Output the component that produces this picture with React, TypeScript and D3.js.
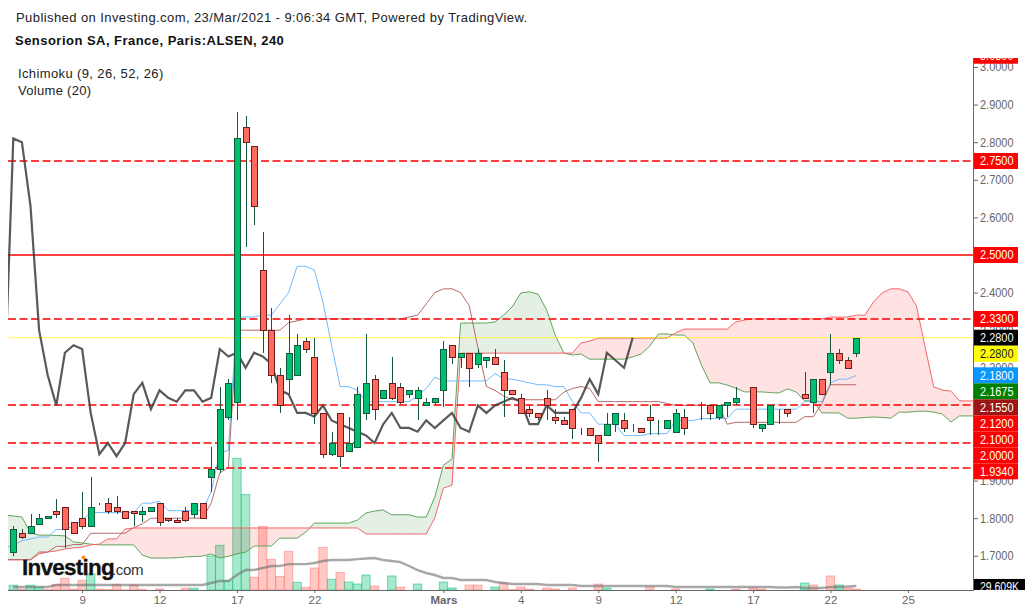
import React, { useRef, useEffect } from 'react';
import * as d3 from 'd3';

const opens = [1.71,1.76,1.76,1.785,1.8,1.82,1.83,1.79,1.8,1.78,1.84,1.84,1.83,1.82,1.82,1.81,1.82,1.84,1.8,1.795,1.82,1.81,1.84,1.91,1.93,2.07,2.11,2.84,2.79,2.46,2.3,2.18,2.17,2.18,2.27,2.23,2.08,1.97,2.08,1.98,1.99,2.08,2.17,2.12,2.16,2.15,2.13,2.12,2.1,2.11,2.14,2.26,2.23,2.24,2.21,2.22,2.23,2.19,2.14,2.12,2.09,2.08,2.12,2.07,2.06,2.09,2.03,2.04,2.02,2.02,2.05,2.06,2.04,2.04,2.07,2.04,2.04,2.03,2.07,2.03,2.1,2.1,2.07,2.1,2.11,2.11,2.15,2.04,2.05,2.08,2.09,2.08,2.13,2.11,2.17,2.19,2.24,2.22,2.24];
const highs = [1.78,1.77,1.81,1.81,1.805,1.85,1.83,1.79,1.87,1.91,1.84,1.855,1.86,1.82,1.82,1.83,1.83,1.84,1.8,1.8,1.83,1.84,1.84,1.99,2.15,2.17,2.88,2.87,2.79,2.56,2.36,2.2,2.34,2.29,2.28,2.28,2.08,2.03,2.08,2.07,2.15,2.29,2.18,2.14,2.23,2.16,2.14,2.15,2.12,2.12,2.27,2.26,2.24,2.24,2.25,2.23,2.25,2.22,2.14,2.13,2.1,2.08,2.14,2.09,2.07,2.09,2.04,2.04,2.02,2.08,2.08,2.08,2.05,2.04,2.1,2.06,2.06,2.09,2.09,2.03,2.11,2.1,2.1,2.11,2.15,2.11,2.15,2.05,2.1,2.09,2.09,2.08,2.19,2.17,2.17,2.29,2.25,2.23,2.28];
const lows = [1.7,1.745,1.76,1.785,1.8,1.8,1.72,1.76,1.77,1.78,1.835,1.81,1.81,1.8,1.78,1.79,1.82,1.78,1.79,1.79,1.79,1.8,1.8,1.87,1.92,2.06,2.06,2.52,2.58,2.24,2.16,2.08,2.13,2.18,2.24,2.05,1.96,1.965,1.935,1.975,1.99,2.06,2.06,2.12,2.115,2.105,2.12,2.06,2.1,2.1,2.095,2.21,2.2,2.15,2.2,2.2,2.21,2.07,2.13,2.08,2.07,2.06,2.06,2.05,2.05,2.01,2.02,2.02,1.95,2.02,2.03,2.03,2.03,2.03,2.02,2.02,2.04,2.03,2.02,2.03,2.06,2.06,2.06,2.07,2.1,2.11,2.04,2.03,2.05,2.05,2.07,2.08,2.12,2.08,2.13,2.155,2.21,2.2,2.23];
const closes = [1.77,1.75,1.78,1.8,1.805,1.81,1.77,1.76,1.78,1.83,1.84,1.82,1.82,1.8,1.815,1.82,1.83,1.79,1.795,1.79,1.795,1.84,1.8,1.93,2.09,2.16,2.81,2.8,2.63,2.3,2.18,2.1,2.24,2.26,2.25,2.08,1.97,2,1.965,2,2.13,2.16,2.09,2.14,2.12,2.11,2.14,2.14,2.11,2.12,2.25,2.23,2.24,2.2,2.24,2.23,2.21,2.14,2.13,2.08,2.08,2.07,2.1,2.06,2.05,2.04,2.03,2.02,2,2.05,2.08,2.04,2.04,2.03,2.06,2.04,2.06,2.08,2.04,2.03,2.1,2.08,2.1,2.11,2.12,2.11,2.05,2.05,2.1,2.08,2.08,2.08,2.12,2.17,2.13,2.24,2.22,2.2,2.28];

// ichimoku lines start one bar left of the first candle
const tenkan = [1.72,1.729,1.74,1.745,1.75,1.75,1.77,1.77,1.78,1.795,1.815,1.815,1.815,1.815,1.815,1.815,1.84,1.84,1.845,1.82,1.82,1.82,1.82,1.82,1.87,1.975,1.98,2.335,2.335,2.335,2.34,2.34,2.37,2.4,2.47,2.47,2.46,2.375,2.26,2.15,2.15,2.14,2.11,2.11,2.11,2.11,2.11,2.11,2.125,2.145,2.175,2.165,2.165,2.165,2.165,2.165,2.165,2.185,2.17,2.17,2.165,2.16,2.155,2.155,2.15,2.15,2.11,2.08,2.08,2.05,2.05,2.05,2.02,2.02,2.02,2.025,2.025,2.025,2.06,2.06,2.06,2.065,2.065,2.065,2.065,2.09,2.09,2.09,2.09,2.09,2.09,2.09,2.09,2.11,2.11,2.11,2.16,2.17,2.17,2.18];
const kijun = [1.69,1.69,1.69,1.69,1.71,1.71,1.725,1.725,1.73,1.73,1.76,1.76,1.76,1.76,1.76,1.775,1.785,1.8,1.8,1.8,1.8,1.8,1.8,1.8,1.84,1.92,1.935,2.3,2.3,2.3,2.3,2.3,2.3,2.32,2.325,2.33,2.33,2.33,2.33,2.33,2.33,2.33,2.33,2.33,2.33,2.33,2.33,2.335,2.34,2.37,2.4,2.41,2.41,2.4,2.365,2.255,2.15,2.14,2.125,2.115,2.115,2.115,2.115,2.115,2.115,2.135,2.145,2.15,2.145,2.11,2.11,2.11,2.11,2.11,2.11,2.11,2.11,2.105,2.1,2.1,2.1,2.1,2.1,2.1,2.05,2.055,2.055,2.055,2.055,2.055,2.055,2.055,2.055,2.07,2.07,2.105,2.155,2.155,2.155,2.155];
const spanA = [1.808,1.806,1.803,1.761,1.755,1.755,1.754,1.753,1.737,1.734,1.731,1.729,1.729,1.729,1.729,1.729,1.702,1.694,1.694,1.694,1.695,1.697,1.698,1.699,1.705,1.694,1.699,1.705,1.71,1.726,1.726,1.726,1.747,1.747,1.747,1.763,1.787,1.787,1.787,1.787,1.787,1.795,1.814,1.819,1.822,1.809,1.809,1.809,1.803,1.803,1.856,1.941,1.957,2.319,2.319,2.319,2.319,2.322,2.34,2.362,2.399,2.402,2.396,2.354,2.287,2.239,2.234,2.237,2.223,2.223,2.223,2.223,2.223,2.229,2.237,2.258,2.29,2.29,2.287,2.287,2.266,2.207,2.16,2.16,2.154,2.146,2.136,2.136,2.136,2.134,2.133,2.144,2.136,2.112,2.112,2.08,2.08,2.08,2.066,2.066,2.068,2.069,2.068,2.066,2.082,2.082,2.084,2.085,2.082,2.077,2.056,2.072,2.072,2.072];
const spanB = [1.689,1.689,1.689,1.689,1.705,1.71,1.713,1.718,1.721,1.723,1.729,1.731,1.745,1.745,1.771,1.774,1.774,1.774,1.774,1.774,1.774,1.774,1.774,1.774,1.774,1.774,1.774,1.774,1.774,1.774,1.774,1.774,1.774,1.774,1.774,1.774,1.774,1.774,1.774,1.774,1.774,1.774,1.758,1.758,1.758,1.758,1.758,1.758,1.758,1.758,1.801,1.88,1.888,2.239,2.239,2.239,2.239,2.239,2.239,2.239,2.239,2.239,2.239,2.239,2.239,2.239,2.239,2.266,2.271,2.279,2.279,2.279,2.279,2.279,2.279,2.279,2.279,2.279,2.293,2.303,2.303,2.303,2.303,2.303,2.303,2.322,2.327,2.33,2.33,2.33,2.33,2.33,2.33,2.33,2.33,2.33,2.335,2.335,2.335,2.34,2.34,2.375,2.399,2.41,2.41,2.402,2.364,2.255,2.149,2.141,2.138,2.112,2.112,2.112];

const volumes = [35,7,35,20,4,42,87,7,72,121,7,4,42,2,37,5,0,7,0,0,13,13,0,252,331,69,975,708,94,471,227,101,286,57,20,163,316,79,131,59,44,111,30,0,104,22,0,44,0,0,59,15,0,37,37,0,22,52,4,22,7,0,15,7,0,15,0,0,44,15,0,0,0,0,22,0,0,7,0,0,0,7,0,0,7,0,15,7,0,0,0,0,52,37,0,104,37,15,7];
const volumeSide = 'grggrrrrrgrrrrrrgrrrrgrgggggrrrrrgrrrgrgggrggrrgrgggrrrrgrrrrrrrrrrrrgrrgrrrgrgrrgggrgrrgrrrgrrrg';
const volumeAvg = [22,22,22,22,22,37,37,37,37,37,37,37,37,37,37,37,37,37,37,37,37,37,37,52,67,67,111,148,148,163,178,178,192,192,192,200,215,222,222,222,229,233,237,222,215,207,178,148,126,111,89,89,74,74,74,74,59,52,44,44,44,44,37,37,37,37,30,30,30,30,30,30,30,30,30,30,30,22,22,22,22,22,22,22,22,22,22,22,22,18,18,22,15,15,15,22,22,26,30];

// 2.0 and 2.1 sit fully under the price labels in the reference
const priceTicks = [1.7,1.8,1.9,2.2,2.3,2.4,2.5,2.6,2.7,2.8,2.9,3.0];
const dateTicks = [8,17,26,35,50,59,68,77,86,95,104];
const dateLabels = ['9','12','17','22','Mars','4','9','12','17','22','25'];

const dashedLevels = [2.75,2.33,2.1,2.0,1.934];
const solidLevels = [2.5];
const lastClose = 2.28;

const labelPrices = [3.03,2.75,2.5,2.33,2.28,2.28,2.18,2.1675,2.155,2.12,2.1,2.0,1.934];
const labelFills = ['#ff0000','#ff0000','#ff0000','#ff0000','#000000','#ffff00','#0a96ff','#008000','#9c1414','#ff0000','#ff0000','#ff0000','#ff0000'];
const labelInk = ['#fff','#fff','#fff','#fff','#fff','#222','#fff','#fff','#fff','#fff','#fff','#fff','#fff'];

const UP = '#00c06f';
const DOWN = '#ff6a5f';
const FONT = '"Liberation Sans", Arial, sans-serif';

const App: React.FC = () => {
  const svgRef = useRef<SVGSVGElement | null>(null);

  useEffect(() => {
    const svg = d3.select(svgRef.current!);
    svg.selectAll('*').remove();
    svg.style('font-family', FONT);

    const x = d3.scaleLinear().domain([0, 98]).range([13.3, 856.3]);
    const y = d3.scaleLinear().domain([1.7, 3.0]).range([555.8, 67]);
    const v = d3.scaleLinear().domain([0, 1000]).range([590, 455]);
    const px = (i: number) => Math.round(x(i));

    const defs = svg.append('defs');
    defs.append('clipPath').attr('id', 'plot')
      .append('rect').attr('x', 8).attr('y', 57).attr('width', 965).attr('height', 533);
    defs.append('clipPath').attr('id', 'scale')
      .append('rect').attr('x', 973).attr('y', 58).attr('width', 59).attr('height', 532);

    const cloudIdx = d3.range(spanA.length);
    const bandArea = d3.area<number>().x((i) => x(i - 1))
      .y0((i) => y(spanA[i])).y1((i) => y(spanB[i]));
    defs.append('clipPath').attr('id', 'overB').append('path')
      .attr('d', d3.area<number>().x((i) => x(i - 1)).y0(0).y1((i) => y(spanB[i]))(cloudIdx)!);
    defs.append('clipPath').attr('id', 'underB').append('path')
      .attr('d', d3.area<number>().x((i) => x(i - 1)).y0(614).y1((i) => y(spanB[i]))(cloudIdx)!);

    const plot = svg.append('g').attr('clip-path', 'url(#plot)');

    // volume
    plot.append('g').selectAll('rect').data(volumes).join('rect')
      .attr('x', (_, i) => x(i) - 4.2)
      .attr('width', 8.4)
      .attr('y', (d) => v(d))
      .attr('height', (d) => 590 - v(d))
      .attr('fill', (_, i) => (volumeSide[i] === 'g' ? 'rgba(0,192,111,0.35)' : 'rgba(255,90,80,0.33)'))
      .attr('stroke', (_, i) => (volumeSide[i] === 'g' ? 'rgba(0,192,111,0.5)' : 'rgba(255,90,80,0.4)'))
      .attr('stroke-width', (d) => (d > 0 ? 1 : 0));

    // cloud
    plot.append('g').attr('clip-path', 'url(#overB)').append('path')
      .attr('d', bandArea(cloudIdx)!).attr('fill', 'rgba(0,110,0,0.1)');
    plot.append('g').attr('clip-path', 'url(#underB)').append('path')
      .attr('d', bandArea(cloudIdx)!).attr('fill', 'rgba(255,0,0,0.11)');

    const seriesLine = d3.line<number>().x((_, i) => x(i - 1)).y((d) => y(d));
    const drawLine = (vals: number[], color: string) =>
      plot.append('path').attr('d', seriesLine(vals)!).attr('fill', 'none')
        .attr('stroke', color).attr('stroke-width', 1);
    drawLine(spanA, '#5fa45a');
    drawLine(spanB, '#f4646a');
    drawLine(tenkan, '#6ebcff');
    drawLine(kijun, '#b86a6a');

    // horizontal levels
    const level = (p: number) => Math.round(y(p));
    dashedLevels.forEach((p) => {
      plot.append('line').attr('x1', 8).attr('x2', 973).attr('y1', level(p)).attr('y2', level(p))
        .attr('stroke', '#ff0000').attr('stroke-width', 1.5).attr('stroke-dasharray', '8 3.5');
    });
    solidLevels.forEach((p) => {
      plot.append('line').attr('x1', 8).attr('x2', 973).attr('y1', level(p)).attr('y2', level(p))
        .attr('stroke', '#ff0000').attr('stroke-width', 1.5);
    });
    plot.append('line').attr('x1', 8).attr('x2', 973).attr('y1', y(lastClose)).attr('y2', y(lastClose))
      .attr('stroke', '#f2e23a').attr('stroke-width', 1).attr('stroke-dasharray', '1 1');

    // lagging span, closes moved back 26 bars
    const lagging = d3.line<number>().x((_, i) => x(i - 26)).y((d) => y(d));
    plot.append('path').attr('d', lagging(closes)!).attr('fill', 'none')
      .attr('stroke', 'rgba(60,60,60,0.85)').attr('stroke-width', 2.2);

    // volume average
    const avgLine = d3.line<number>().x((_, i) => x(i)).y((d) => v(d));
    plot.append('path').attr('d', avgLine(volumeAvg)!).attr('fill', 'none')
      .attr('stroke', 'rgba(110,110,110,0.6)').attr('stroke-width', 2.4);

    // candles
    const candles = plot.append('g').selectAll('g').data(opens).join('g');
    candles.append('line')
      .attr('x1', (_, i) => px(i) + 0.5).attr('x2', (_, i) => px(i) + 0.5)
      .attr('y1', (_, i) => Math.round(y(highs[i]))).attr('y2', (_, i) => Math.round(y(lows[i])))
      .attr('stroke', '#17573c').attr('stroke-width', 1);
    candles.append('rect')
      .attr('x', (_, i) => px(i) - 2.5)
      .attr('width', 6)
      .attr('y', (d, i) => Math.round(y(Math.max(d, closes[i]))) + 0.5)
      .attr('height', (d, i) => Math.abs(Math.round(y(d)) - Math.round(y(closes[i]))))
      .attr('fill', (d, i) => (closes[i] >= d ? UP : DOWN))
      .attr('stroke', (d, i) => (closes[i] >= d ? '#0e5e3e' : '#6d1c1c'))
      .attr('stroke-width', 1);

    // logo
    const logo = svg.append('g');
    logo.append('text').attr('x', 22).attr('y', 575).attr('font-size', 22.5).attr('font-weight', 700)
      .attr('letter-spacing', -0.75).attr('fill', '#111').attr('stroke', '#111').attr('stroke-width', 0.3).text('Investing');
    logo.append('text').attr('x', 112).attr('y', 575).attr('font-size', 15).attr('letter-spacing', -0.3)
      .attr('fill', '#333').text('.com');
    logo.append('circle').attr('cx', 83.5).attr('cy', 557.5).attr('r', 2).attr('fill', '#f7941d');

    // price scale
    const scale = svg.append('g').attr('clip-path', 'url(#scale)');
    const yAxis = scale.append('g').attr('transform', 'translate(973,0)')
      .call(d3.axisRight(y).tickValues(priceTicks).tickFormat(d3.format('.4f') as any).tickSize(5).tickPadding(2));
    yAxis.select('.domain').remove();
    yAxis.selectAll('line').attr('stroke', '#666');
    yAxis.selectAll('text').attr('fill', '#666').attr('font-size', 12).attr('font-family', FONT)
      .attr('textLength', 33.5).attr('lengthAdjust', 'spacingAndGlyphs');

    // price labels, pushed down when they would overlap
    let prev = -Infinity;
    labelPrices.forEach((p, i) => {
      const cy = Math.max(y(p), prev + 16);
      prev = cy;
      scale.append('rect').attr('x', 973).attr('y', cy - 8).attr('width', 45).attr('height', 16).attr('fill', labelFills[i]);
      scale.append('text').attr('x', 980).attr('y', cy + 4.3).attr('font-size', 12).attr('fill', labelInk[i])
        .attr('textLength', 33.5).attr('lengthAdjust', 'spacingAndGlyphs')
        .text(d3.format('.4f')(p));
    });

    scale.append('rect').attr('x', 973).attr('y', v(volumeAvg[98]) - 7).attr('width', 52).attr('height', 16).attr('fill', '#000');
    scale.append('text').attr('x', 980).attr('y', v(volumeAvg[98]) + 5).attr('font-size', 12).attr('fill', '#fff')
      .attr('textLength', 39).attr('lengthAdjust', 'spacingAndGlyphs').text('29.609K');

    svg.append('line').attr('x1', 973.5).attr('x2', 973.5).attr('y1', 58).attr('y2', 590)
      .attr('stroke', '#666').attr('stroke-width', 1);

    // time scale
    const xAxis = svg.append('g').attr('transform', 'translate(0,590)')
      .call(d3.axisBottom(x).tickValues(dateTicks).tickFormat((_, i) => dateLabels[i]).tickSize(3).tickPadding(3));
    xAxis.select('.domain').remove();
    xAxis.selectAll('line').attr('stroke', '#666');
    xAxis.selectAll('text').attr('fill', '#666').attr('font-size', 11.5).attr('font-family', FONT)
      .attr('font-weight', (_, i) => (dateLabels[i] === 'Mars' ? 700 : 400));
    svg.append('line').attr('x1', 8).attr('x2', 974).attr('y1', 590.5).attr('y2', 590.5)
      .attr('stroke', '#666').attr('stroke-width', 1);

    // headers
    svg.append('text').attr('x', 16).attr('y', 22).attr('font-size', 13).attr('letter-spacing', 0.42).attr('fill', '#222')
      .text('Published on Investing.com, 23/Mar/2021 - 9:06:34 GMT, Powered by TradingView.');
    svg.append('text').attr('x', 15).attr('y', 45).attr('font-size', 13).attr('font-weight', 700).attr('letter-spacing', 0.47).attr('fill', '#111')
      .text('Sensorion SA, France, Paris:ALSEN, 240');
    svg.append('text').attr('x', 18).attr('y', 78).attr('font-size', 13).attr('letter-spacing', 0.38).attr('fill', '#222')
      .text('Ichimoku (9, 26, 52, 26)');
    svg.append('text').attr('x', 18).attr('y', 95).attr('font-size', 13).attr('letter-spacing', 0.3).attr('fill', '#222')
      .text('Volume (20)');
  }, []);

  return (
    <svg
      ref={svgRef}
      width={1032}
      height={614}
      style={{ position: 'absolute', left: 0, top: 0, background: '#fff' }}
    />
  );
};

export default App;
